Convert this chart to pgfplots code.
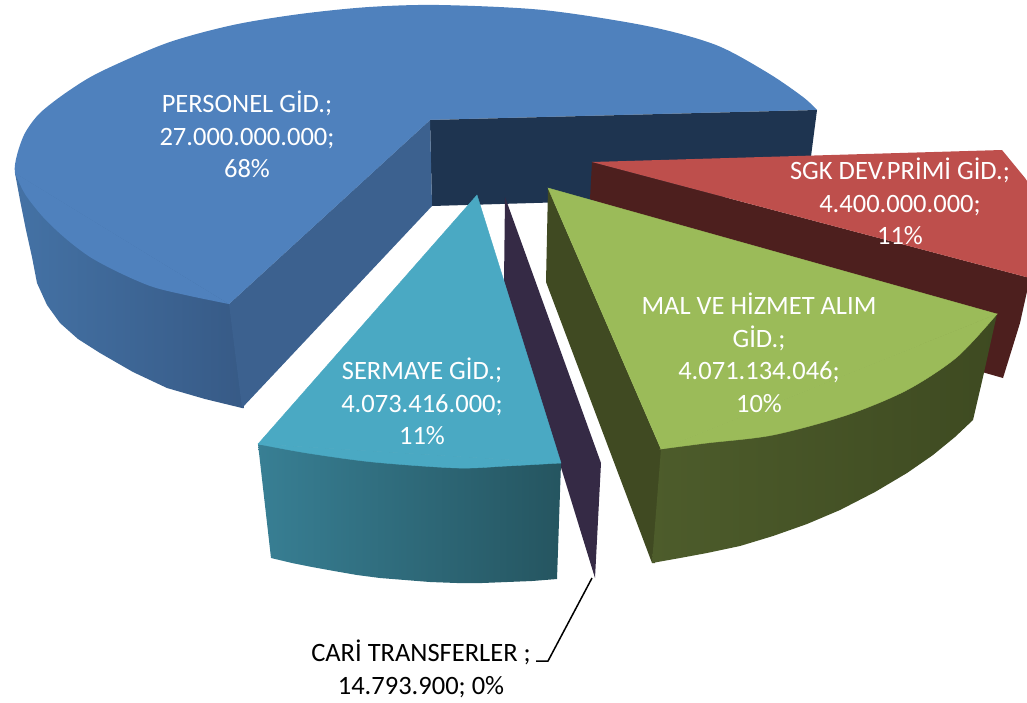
\documentclass[border=0pt]{standalone}
\usepackage{pgfplots}
\pgfplotsset{compat=1.18}
\usepackage{fontspec}
\setmainfont{Carlito}
\definecolor{bluetop}{HTML}{4F81BD}
\definecolor{bluedark}{HTML}{1E3450}
\definecolor{bluecut}{HTML}{3C618F}
\definecolor{bluewallL}{HTML}{4472A5}
\definecolor{bluewallR}{HTML}{375A86}
\definecolor{redtop}{HTML}{BE4F4C}
\definecolor{reddark}{HTML}{4D1F1E}
\definecolor{greentop}{HTML}{9BBB59}
\definecolor{greendark}{HTML}{404A22}
\definecolor{greenwallL}{HTML}{4D5C2B}
\definecolor{greenwallR}{HTML}{3E4A21}
\definecolor{tealtop}{HTML}{4AA9C3}
\definecolor{tealL}{HTML}{387F94}
\definecolor{tealR}{HTML}{255560}
\definecolor{purpledark}{HTML}{352A45}
\tikzset{lab/.style={font=\fontsize{26.5}{32.5}\selectfont, align=center, text=white, inner sep=0pt}}
\begin{document}
\begin{tikzpicture}
\useasboundingbox (0,0) rectangle (1027pt,702pt);
\begin{axis}[
  scale only axis, width=1027pt, height=702pt,
  xmin=0, xmax=1027, ymin=0, ymax=702, y dir=reverse,
  hide axis, no markers,
  every axis plot/.append style={draw=none, line width=0pt},
]
% PERSONEL: top face as one arc, the notch opened in white, walls over it
\addplot[smooth, fill=bluetop] coordinates {(229,304)(190,296)(153,287)(120,273)(90,257)(65,238)(43,217)(25,194)(15,173)(17,155)(25,133)(40,113)(67,92)(100,72)(167,43)(233,25)(300,14)(369,7)(439,5)(543,10)(647,26)(716,45)(768,73)(803,97)(817,110)} --cycle;
\addplot[fill=white] coordinates {(430,120)(229,304)(240,314)(832,120)(817,110)} --cycle;
\addplot[fill=bluedark] coordinates {(430,120)(817,110)(806,195)(432,206)} --cycle;
\addplot[left color=bluewallL, right color=bluewallR] coordinates {(15,173)(229,304)(244,306)(244,408)(242,408)(205,399)(167,388)(133,372)(100,353)(78,339)(60,323)(47,305)(37,283)(32,257)(26,230)(20,200)} --cycle;
\addplot[fill=bluecut] coordinates {(430,120)(229,304)(242,408)(432,206)} --cycle;
\addplot[smooth, fill=bluetop] coordinates {(229,304)(190,296)(153,287)(120,273)(90,257)(65,238)(43,217)(25,194)(15,173)} --cycle;
\addplot[fill=bluetop] coordinates {(15,173)(229,304)(430,120)(200,60)} --cycle;
% SGK
\addplot[fill=reddark] coordinates {(592,162)(1030,278)(1020,323)(1003,378)(975,370)(590,199)} --cycle;
\addplot[fill=redtop] coordinates {(592,162)(1002,150)(1025,178)(1040,200)(1060,286)} --cycle;
% CARI
\addplot[fill=purpledark] coordinates {(505,197)(601,463)(595,578)(504,282)} --cycle;
% SERMAYE
\addplot[left color=tealL, right color=tealR] coordinates {(258,444)(561,463)(557,579)(532,581)(507,582)(482,583)(457,583)(430,582)(405,580)(380,578)(357,575)(334,571)(312,567)(292,563)(271,558)} --cycle;
\addplot[fill=tealtop, draw=tealtop, line width=0.4pt] coordinates {(477,195)(258,444)(561,463)} --cycle;
\addplot[smooth, fill=tealtop, draw=tealtop, line width=0.4pt] coordinates {(258,444)(307,453)(373,462)(457,468)(507,466)(561,463)} --cycle;
% MAL VE HIZMET
\addplot[fill=greendark] coordinates {(548,188)(661,449)(664,449)(655,563)(652,563)(546,282)} --cycle;
\addplot[left color=greenwallL, middle color=greenwallR!88!greenwallL, right color=greenwallR] coordinates {(997,314)(661,449)(652,563)(680,558)(707,553)(740,546)(773,536)(807,524)(840,510)(875,492)(907,473)(933,455)(955,437)(973,420)(983,377)} --cycle;
\addplot[fill=greentop, draw=greentop, line width=0.4pt] coordinates {(548,188)(661,449)(997,314)} --cycle;
\addplot[smooth, fill=greentop, draw=greentop, line width=0.4pt] coordinates {(661,449)(707,443)(773,435)(847,415)(907,390)(957,357)(997,314)} --cycle;
% leader
\addplot[draw=black, line width=1.5pt] coordinates {(592,578)(548,661)(536,661)};
% labels
\node[lab] at (axis cs:247,134.5) {PERSONEL GİD.;\\27.000.000.000;\\68\%};
\node[lab] at (axis cs:900,201.5) {SGK DEV.PRİMİ GİD.;\\4.400.000.000;\\11\%};
\node[lab] at (axis cs:759,353) {MAL VE HİZMET ALIM\\GİD.;\\4.071.134.046;\\10\%};
\node[lab] at (axis cs:422,401.5) {SERMAYE GİD.;\\4.073.416.000;\\11\%};
\node[lab, text=black] at (axis cs:421,669) {CARİ TRANSFERLER ;\\14.793.900; 0\%};
\end{axis}
\end{tikzpicture}
\end{document}
